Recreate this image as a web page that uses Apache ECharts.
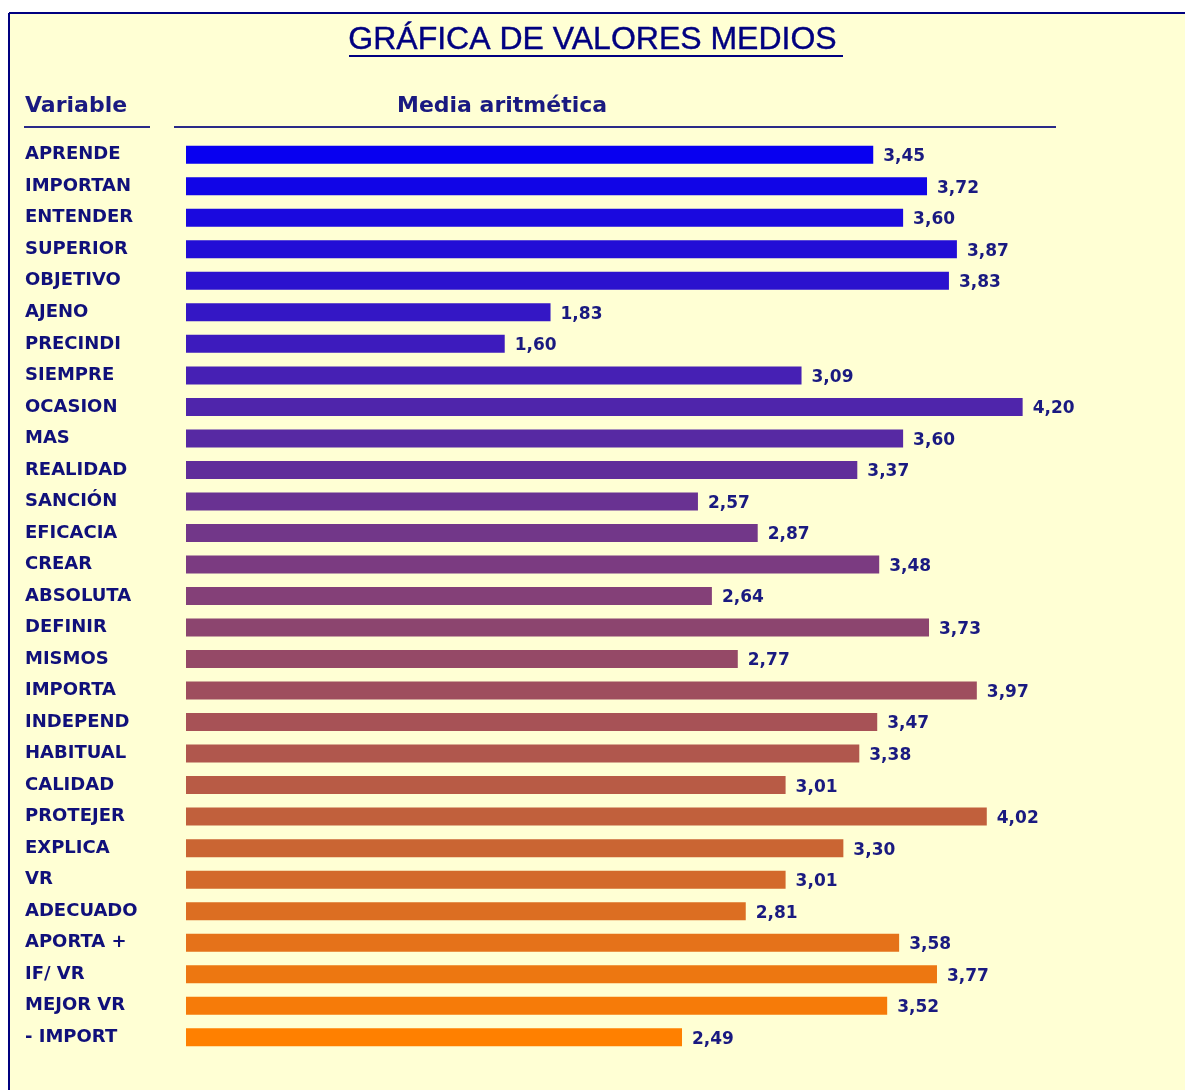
<!DOCTYPE html>
<html>
<head>
<meta charset="utf-8">
<script src="https://cdn.jsdelivr.net/npm/echarts@6/dist/echarts.min.js"></script>
<style>
  html, body { margin: 0; padding: 0; background: #fff; }
  #chart { width: 1185px; height: 1090px; }
</style>
</head>
<body>
<div id="chart"></div>
<script>
// variables, top to bottom
const variables = [
  'APRENDE', 'IMPORTAN', 'ENTENDER', 'SUPERIOR', 'OBJETIVO', 'AJENO',
  'PRECINDI', 'SIEMPRE', 'OCASION', 'MAS', 'REALIDAD', 'SANCIÓN',
  'EFICACIA', 'CREAR', 'ABSOLUTA', 'DEFINIR', 'MISMOS', 'IMPORTA',
  'INDEPEND', 'HABITUAL', 'CALIDAD', 'PROTEJER', 'EXPLICA', 'VR',
  'ADECUADO', 'APORTA +', 'IF/ VR', 'MEJOR VR', '- IMPORT',
];

// media aritmética
const means = [
  3.45, 3.72, 3.60, 3.87, 3.83, 1.83,
  1.60, 3.09, 4.20, 3.60, 3.37, 2.57,
  2.87, 3.48, 2.64, 3.73, 2.77, 3.97,
  3.47, 3.38, 3.01, 4.02, 3.30, 3.01,
  2.81, 3.58, 3.77, 3.52, 2.49,
];

const navy = '#10107a';
const startColor = [8, 0, 240];
const endColor = [255, 128, 0];

// blue -> orange ramp down the list
const barColor = (i) => {
  const t = i / (variables.length - 1);
  const c = startColor.map((s, k) => Math.round(s + (endColor[k] - s) * t));
  return `rgb(${c[0]},${c[1]},${c[2]})`;
};

const chart = echarts.init(document.getElementById('chart'));

const option = {
  backgroundColor: '#ffffff',
  animation: false,
  title: {
    text: 'GRÁFICA DE VALORES MEDIOS',
    left: 'center',
    top: 19,
    textStyle: {
      fontFamily: 'Liberation Sans',
      fontWeight: 'normal',
      fontSize: 32,
      color: '#000080',
      textBorderColor: '#000080',
      textBorderWidth: 0.4,
    },
  },
  graphic: [
    {
      type: 'rect',
      z: -10,
      shape: { x: 9, y: 13, width: 1300, height: 1200 },
      style: { fill: '#ffffd4', stroke: null, lineWidth: 0 },
    },
    {
      type: 'line',
      shape: { x1: 9, y1: 13, x2: 1300, y2: 13 },
      style: { stroke: '#000080', lineWidth: 2 },
    },
    {
      type: 'line',
      shape: { x1: 9, y1: 13, x2: 9, y2: 1200 },
      style: { stroke: '#000080', lineWidth: 2 },
    },
    {
      type: 'line',
      shape: { x1: 349, y1: 56, x2: 843, y2: 56 },
      style: { stroke: '#000080', lineWidth: 2 },
    },
    {
      type: 'text',
      left: 25,
      top: 95,
      style: {
        text: 'Variable',
        font: 'bold 22px "DejaVu Sans"',
        fill: '#1a1a80',
      },
    },
    {
      type: 'text',
      left: 397,
      top: 95,
      style: {
        text: 'Media aritmética',
        font: 'bold 22px "DejaVu Sans"',
        fill: '#1a1a80',
      },
    },
    {
      type: 'line',
      shape: { x1: 24, y1: 127, x2: 150, y2: 127 },
      style: { stroke: '#2a2a88', lineWidth: 2 },
    },
    {
      type: 'line',
      shape: { x1: 174, y1: 127, x2: 1056, y2: 127 },
      style: { stroke: '#2a2a88', lineWidth: 2 },
    },
  ],
  grid: {
    left: 186,
    top: 139,
    width: 996,
    height: 914,
  },
  xAxis: {
    type: 'value',
    min: 0,
    max: 5,
    show: false,
  },
  yAxis: {
    type: 'category',
    data: variables,
    inverse: true,
    axisLine: { show: false },
    axisTick: { show: false },
    splitLine: { show: false },
    axisLabel: {
      align: 'left',
      margin: 161,
      fontFamily: 'DejaVu Sans',
      fontWeight: 'bold',
      fontSize: 18,
      color: navy,
      padding: [0, 0, 4, 0],
    },
  },
  series: [
    {
      type: 'bar',
      data: means.map((v, i) => ({
        value: v,
        itemStyle: { color: barColor(i) },
      })),
      barWidth: 18,
      label: {
        show: true,
        position: 'right',
        distance: 10,
        offset: [0, 2],
        formatter: (p) => p.value.toFixed(2).replace('.', ','),
        fontFamily: 'DejaVu Sans',
        fontWeight: 'bold',
        fontSize: 17,
        color: '#1a1a80',
      },
    },
  ],
};

chart.setOption(option);
</script>
</body>
</html>
